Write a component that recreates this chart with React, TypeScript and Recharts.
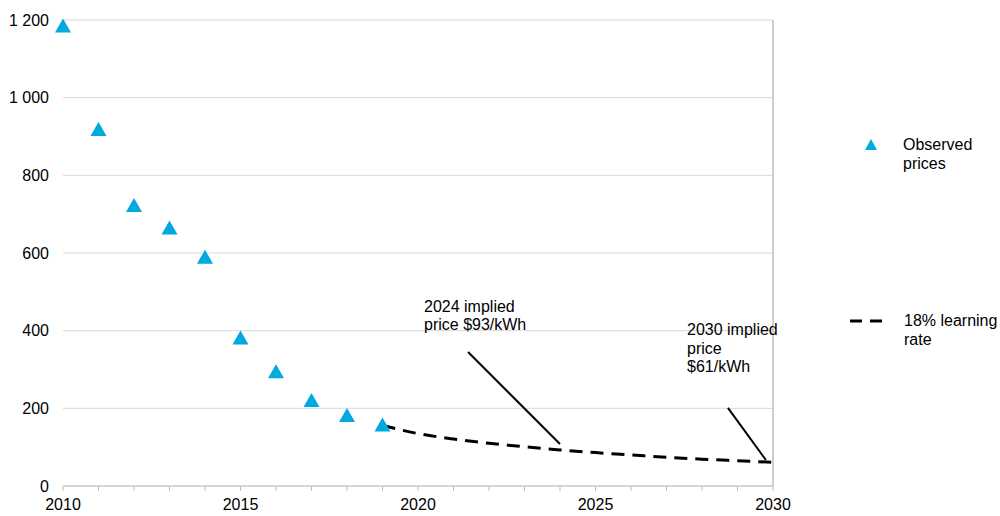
import React from 'react';
import { ComposedChart, Scatter, Line, XAxis, YAxis, CartesianGrid, ReferenceLine } from 'recharts';

const observedYears = [2010, 2011, 2012, 2013, 2014, 2015, 2016, 2017, 2018, 2019];
const observedPrices = [1183, 917, 721, 663, 588, 380, 293, 219, 180, 156];

const projectionYears = [2019, 2020, 2021, 2022, 2023, 2024, 2025, 2026, 2027, 2028, 2029, 2030];
const projectionPrices = [156, 135, 121, 110, 101, 93, 86, 80, 74, 69, 65, 61];

const xTicks = [2010, 2011, 2012, 2013, 2014, 2015, 2016, 2017, 2018, 2019, 2020, 2021, 2022, 2023, 2024, 2025, 2026, 2027, 2028, 2029, 2030];
const yTicks = [0, 200, 400, 600, 800, 1000, 1200];

const observed = observedYears.map((year, i) => ({ year, price: observedPrices[i] }));
const projection = projectionYears.map((year, i) => ({ year, price: projectionPrices[i] }));

const BLUE = '#00A9E0';
const FONT = '"Liberation Sans", Arial, sans-serif';

const Triangle = (props: any) => {
  const { cx, cy } = props;
  if (cx == null || cy == null) return null;
  return <polygon points={`${cx},${cy - 8} ${cx + 8},${cy + 6} ${cx - 8},${cy + 6}`} fill={BLUE} />;
};

const fmtY = (v: number) => (v >= 1000 ? `${Math.floor(v / 1000)} ${String(v % 1000).padStart(3, '0')}` : String(v));
const fmtX = (v: number) => (v % 5 === 0 ? String(v) : '');

const ChartLegend = () => (
  <div style={{ position: 'absolute', left: 840, top: 130, width: 160, height: 230, fontFamily: FONT, fontSize: 16, color: '#000' }}>
    <svg style={{ position: 'absolute', left: 23, top: 7 }} width="16" height="16">
      <polygon points="8,2 14,13 2,13" fill={BLUE} />
    </svg>
    <div style={{ position: 'absolute', left: 63, top: 5, lineHeight: '19px' }}>
      Observed
      <br />
      prices
    </div>
    <svg style={{ position: 'absolute', left: 8, top: 186 }} width="36" height="10">
      <line x1="2" y1="5" x2="34" y2="5" stroke="#000" strokeWidth={3} strokeDasharray="12 8" />
    </svg>
    <div style={{ position: 'absolute', left: 64, top: 181, lineHeight: '19px', whiteSpace: 'nowrap' }}>
      18% learning
      <br />
      rate
    </div>
  </div>
);

export default function App() {
  return (
    <div style={{ position: 'absolute', left: 0, top: 0, width: 1000, height: 516, background: '#fff' }}>
      <ComposedChart width={1000} height={516} margin={{ top: 20, right: 227, left: 0, bottom: 0 }}>
        <CartesianGrid vertical={false} stroke="#D9D9D9" strokeWidth={1} />
        <XAxis
          dataKey="year"
          type="number"
          domain={[2010, 2030]}
          ticks={xTicks}
          tickFormatter={fmtX}
          interval={0}
          height={30}
          stroke="#BFBFBF"
          tickSize={5}
          tick={{ fill: '#000', fontSize: 16, fontFamily: FONT }}
          tickMargin={8}
        />
        <YAxis
          type="number"
          domain={[0, 1200]}
          ticks={yTicks}
          tickFormatter={fmtY}
          width={63}
          axisLine={false}
          tickLine={false}
          tickSize={0}
          tickMargin={14}
          tick={{ fill: '#000', fontSize: 16, fontFamily: FONT }}
        />
        <ReferenceLine x={2030} stroke="#BFBFBF" strokeWidth={1.5} />
        <ReferenceLine segment={[{ x: 2021.41, y: 345 }, { x: 2024.0, y: 108 }]} stroke="#000" strokeWidth={2} />
        <ReferenceLine segment={[{ x: 2028.73, y: 201 }, { x: 2029.8, y: 67 }]} stroke="#000" strokeWidth={2} />
        <Line
          data={projection}
          dataKey="price"
          type="monotone"
          stroke="#000"
          strokeWidth={3}
          strokeDasharray="13 8"
          dot={false}
          activeDot={false}
          isAnimationActive={false}
          legendType="none"
        />
        <Scatter data={observed} dataKey="price" shape={<Triangle />} isAnimationActive={false} />
      </ComposedChart>
      <ChartLegend />
      <div style={{ position: 'absolute', left: 424, top: 298, fontFamily: FONT, fontSize: 16, lineHeight: '18px', color: '#000', whiteSpace: 'nowrap' }}>
        2024 implied
        <br />
        price $93/kWh
      </div>
      <div style={{ position: 'absolute', left: 687, top: 321, fontFamily: FONT, fontSize: 16, lineHeight: '18.5px', color: '#000', whiteSpace: 'nowrap' }}>
        2030 implied
        <br />
        price
        <br />
        $61/kWh
      </div>
    </div>
  );
}
